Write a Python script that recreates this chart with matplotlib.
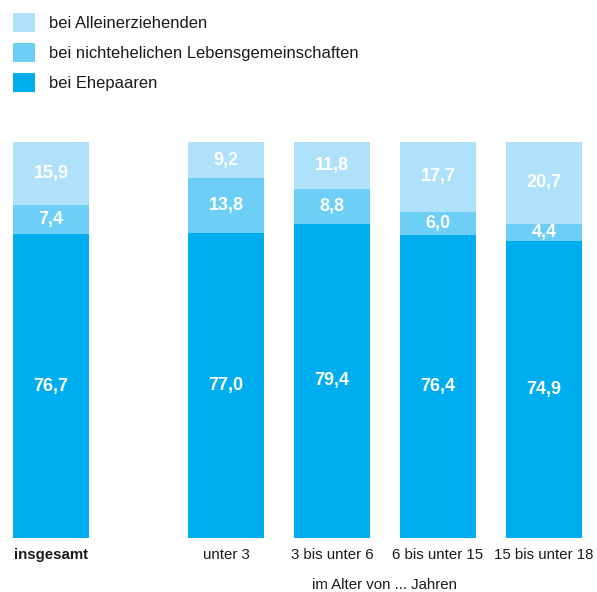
import numpy as np
import matplotlib
matplotlib.use('Agg')
from matplotlib import pyplot as plt

categories = ['insgesamt', 'unter 3', '3 bis unter 6', '6 bis unter 15', '15 bis unter 18']
ehepaare = [76.7, 77.0, 79.4, 76.4, 74.9]
nichtehelich = [7.4, 13.8, 8.8, 6.0, 4.4]
alleinerziehend = [15.9, 9.2, 11.8, 17.7, 20.7]
series_names = ['bei Ehepaaren', 'bei nichtehelichen Lebensgemeinschaften', 'bei Alleinerziehenden']
colors = ['#00aeef', '#6dcff6', '#afe1fa']

plt.rcParams['font.family'] = ['Liberation Sans', 'DejaVu Sans']

fig = plt.figure(figsize=(5.97, 5.92), dpi=100)
ax = fig.add_axes([0, 0, 1, 1])

# insgesamt stands apart, age groups evenly spaced
x = np.array([0, 1.65, 2.65, 3.65, 4.65])
width = 0.717

series = [ehepaare, nichtehelich, alleinerziehend]
bottom = np.zeros(len(categories))
handles = []
for vals, name, col in zip(series, series_names, colors):
    vals = np.array(vals)
    b = ax.bar(x, vals, width, bottom=bottom, color=col, label=name, linewidth=0)
    handles.append(b)
    for xi, bi, v in zip(x, bottom, vals):
        ax.text(xi, bi + v / 2, f'{v:.1f}'.replace('.', ','), ha='center', va='center',
                color='white', fontsize=13, fontweight='bold')
    bottom = bottom + vals

for i, (xi, c) in enumerate(zip(x, categories)):
    ax.text(xi, -4.2, c, ha='center', va='center', fontsize=10.8, color='#1a1a1a',
            fontweight='bold' if i == 0 else 'normal')
ax.text(x[1:].mean(), -11.8, 'im Alter von ... Jahren', ha='center', va='center',
        fontsize=10.8, color='#1a1a1a')

ax.set_xlim(-0.481, 5.151)
ax.set_ylim(-13.64, 135.86)
ax.axis('off')

leg = ax.legend(handles[::-1], series_names[::-1], loc='upper left',
                bbox_to_anchor=(0.021, 0.978), frameon=False, fontsize=11.9,
                handlelength=1.36, handleheight=1.4, handletextpad=0.85,
                labelspacing=0.65, borderaxespad=0, borderpad=0)
for t in leg.get_texts():
    t.set_color('#1a1a1a')

fig.savefig('out.png', dpi=100)
